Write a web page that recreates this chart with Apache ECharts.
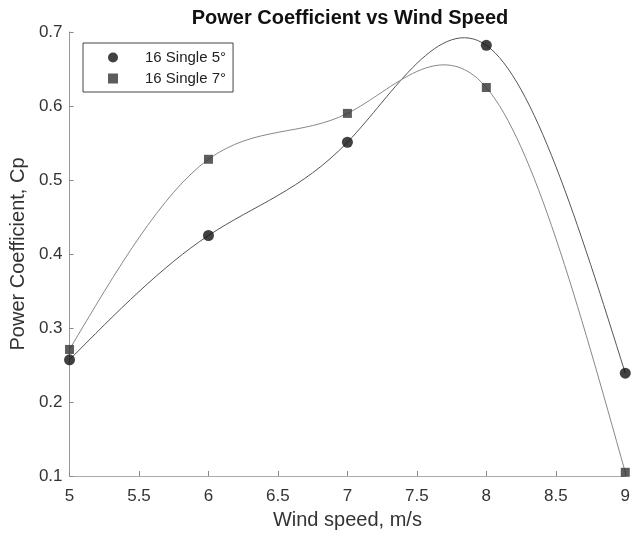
<!DOCTYPE html>
<html>
<head>
<meta charset="utf-8">
<script src="https://cdn.jsdelivr.net/npm/echarts@6/dist/echarts.min.js"></script>
<style>
  html, body { margin: 0; padding: 0; background: #fff; }
  #chart { width: 633px; height: 535px; }
</style>
</head>
<body>
<div id="chart"></div>
<script>
const windSpeed = [5, 6, 7, 8, 9];
const cpSingle5 = [0.257, 0.425, 0.551, 0.682, 0.239];
const cpSingle7 = [0.271, 0.528, 0.590, 0.625, 0.105];
const seriesNames = ['16 Single 5°', '16 Single 7°'];

const font = 'Liberation Sans, Arial, sans-serif';

// natural cubic spline: slope at each knot
function splineSlopes(xs, ys) {
  const n = xs.length;
  const h = [], d = [];
  for (let i = 0; i < n - 1; i++) {
    h[i] = xs[i + 1] - xs[i];
    d[i] = (ys[i + 1] - ys[i]) / h[i];
  }
  const a = [], b = [], c = [], r = [];
  for (let i = 1; i < n - 1; i++) {
    a.push(h[i - 1]);
    b.push(2 * (h[i - 1] + h[i]));
    c.push(h[i]);
    r.push(6 * (d[i] - d[i - 1]));
  }
  const m = n - 2;
  for (let i = 1; i < m; i++) {
    const w = a[i] / b[i - 1];
    b[i] -= w * c[i - 1];
    r[i] -= w * r[i - 1];
  }
  const M = new Array(n).fill(0);
  for (let i = m - 1; i >= 0; i--) {
    M[i + 1] = (r[i] - (i < m - 1 ? c[i] * M[i + 2] : 0)) / b[i];
  }
  const s = [];
  for (let i = 0; i < n - 1; i++) s.push(d[i] - h[i] * (2 * M[i] + M[i + 1]) / 6);
  s.push(d[n - 2] + h[n - 2] * (2 * M[n - 1] + M[n - 2]) / 6);
  return s;
}

function curveSeries(ys, color) {
  const slopes = splineSlopes(windSpeed, ys);
  return {
    type: 'custom',
    silent: true,
    clip: false,
    z: 1,
    data: windSpeed.map((x, i) => [x, ys[i]]),
    encode: { x: 0, y: 1 },
    renderItem(params, api) {
      const i = params.dataIndex;
      if (i >= windSpeed.length - 1) return;
      const x0 = api.value(0), y0 = api.value(1);
      const x1 = windSpeed[i + 1], y1 = ys[i + 1];
      const h = x1 - x0;
      const p0 = api.coord([x0, y0]);
      const p1 = api.coord([x1, y1]);
      const c0 = api.coord([x0 + h / 3, y0 + slopes[i] * h / 3]);
      const c1 = api.coord([x1 - h / 3, y1 - slopes[i + 1] * h / 3]);
      return {
        type: 'bezierCurve',
        shape: {
          x1: p0[0], y1: p0[1], x2: p1[0], y2: p1[1],
          cpx1: c0[0], cpy1: c0[1], cpx2: c1[0], cpy2: c1[1]
        },
        style: { stroke: color, lineWidth: 1, fill: null }
      };
    }
  };
}

const chart = echarts.init(document.getElementById('chart'));

chart.setOption({
  backgroundColor: '#fff',
  animation: false,
  title: {
    text: 'Power Coefficient vs Wind Speed',
    left: 345,
    top: 3,
    textAlign: 'center',
    textStyle: { fontFamily: font, fontSize: 20, fontWeight: 'bold', color: '#111' }
  },
  legend: {
    orient: 'vertical',
    left: 83,
    top: 43,
    padding: [6, 7, 5, 25],
    itemWidth: 10,
    itemHeight: 10,
    itemGap: 4,
    borderColor: '#444',
    borderWidth: 1,
    data: [
      { name: seriesNames[0], icon: 'circle' },
      { name: seriesNames[1], icon: 'rect' }
    ],
    textStyle: { fontFamily: font, fontSize: 15, lineHeight: 17, color: '#222', padding: [0, 0, 0, 22] }
  },
  grid: { left: 69, right: 5, top: 32, bottom: 58 },
  xAxis: {
    type: 'value',
    min: 5,
    max: 9,
    interval: 0.5,
    name: 'Wind speed, m/s',
    nameLocation: 'middle',
    nameGap: 34,
    nameTextStyle: { fontFamily: font, fontSize: 20, color: '#333' },
    axisLine: { lineStyle: { color: '#aaa', width: 1 } },
    axisTick: { inside: true, length: 5, lineStyle: { color: '#888' } },
    axisLabel: { fontFamily: font, fontSize: 17, color: '#333', margin: 12 },
    splitLine: { show: false }
  },
  yAxis: {
    type: 'value',
    min: 0.1,
    max: 0.7,
    interval: 0.1,
    name: 'Power Coefficient, Cp',
    nameLocation: 'middle',
    nameGap: 39,
    nameTextStyle: { fontFamily: font, fontSize: 20, color: '#333' },
    axisLine: { show: true, lineStyle: { color: '#999', width: 1 } },
    axisTick: { show: true, inside: true, length: 4, lineStyle: { color: '#888' } },
    axisLabel: { fontFamily: font, fontSize: 17, color: '#333', margin: 7 },
    splitLine: { show: false }
  },
  series: [
    curveSeries(cpSingle5, '#555'),
    curveSeries(cpSingle7, '#888'),
    {
      name: seriesNames[0],
      type: 'scatter',
      symbol: 'circle',
      symbolSize: 11,
      z: 3,
      itemStyle: { color: '#111' },
      data: windSpeed.map((x, i) => [x, cpSingle5[i]])
    },
    {
      name: seriesNames[1],
      type: 'scatter',
      symbol: 'rect',
      symbolSize: 9,
      z: 3,
      itemStyle: { color: '#333' },
      data: windSpeed.map((x, i) => [x, cpSingle7[i]])
    }
  ]
});
</script>
</body>
</html>
